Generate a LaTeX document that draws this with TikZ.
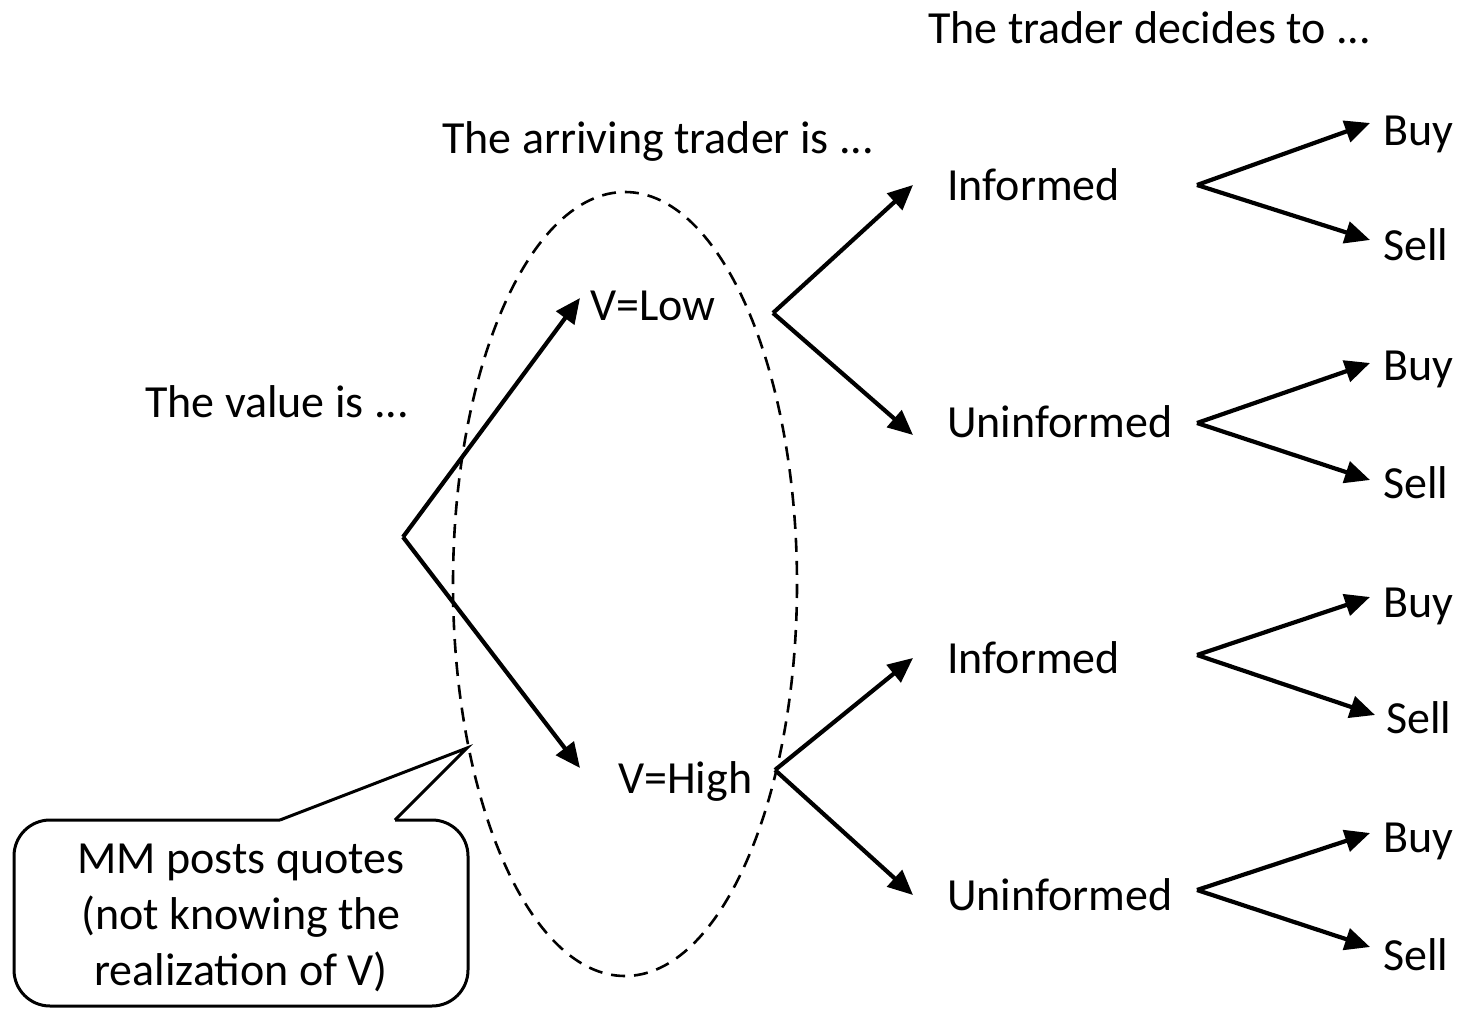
\documentclass[tikz,border=0pt]{standalone}
\usepackage{fontspec}
\setmainfont{Carlito}
\usetikzlibrary{arrows.meta}
\begin{document}
\begin{tikzpicture}[x=1pt,y=-1pt,
  lbl/.style={anchor=base west, inner sep=0pt, font=\fontsize{46}{56}\selectfont},
  branch/.style={line width=4.2pt, -{Triangle[length=25pt,width=22pt]}},
  infoset/.style={line width=2.6pt, dash pattern=on 14pt off 9pt},
  callout/.style={line width=3pt}]
\useasboundingbox (0,0) rectangle (1460,1009);

% information set of the market maker
\draw[infoset] (625,584) ellipse [x radius=172, y radius=392];

% headings
\node[lbl] (hdecide) at (928,43) {The trader decides to ...};
\node[lbl] (harrive) at (442,153) {The arriving trader is ...};
\node[lbl] (hvalue)  at (145,417) {The value is ...};

% value level
\coordinate (root) at (403,537);
\coordinate (lowT) at (580,298);
\coordinate (highT) at (580,768);
\node[lbl] (vlow)  at (590,320) {V=Low};
\node[lbl] (vhigh) at (618,793) {V=High};
\draw[branch] (root) -- (lowT);
\draw[branch] (root) -- (highT);

% trader type level
\coordinate (lowV) at (773,313);
\coordinate (highV) at (775,770);
\coordinate (inf1T) at (913,185);
\coordinate (uni1T) at (913,435);
\coordinate (inf2T) at (913,658);
\coordinate (uni2T) at (913,895);
\draw[branch] (lowV) -- (inf1T);
\draw[branch] (lowV) -- (uni1T);
\draw[branch] (highV) -- (inf2T);
\draw[branch] (highV) -- (uni2T);
\node[lbl] (inf1) at (947,200) {Informed};
\node[lbl] (uni1) at (947,437) {Uninformed};
\node[lbl] (inf2) at (947,673) {Informed};
\node[lbl] (uni2) at (947,910) {Uninformed};

% trading decisions
\coordinate (d1) at (1197,185);
\coordinate (d2) at (1197,423);
\coordinate (d3) at (1197,655);
\coordinate (d4) at (1197,890);
\coordinate (b1T) at (1370,123); \coordinate (s1T) at (1370,240);
\coordinate (b2T) at (1370,363); \coordinate (s2T) at (1370,480);
\coordinate (b3T) at (1370,597); \coordinate (s3T) at (1375,715);
\coordinate (b4T) at (1370,833); \coordinate (s4T) at (1370,947);
\foreach \d/\b/\s in {d1/b1T/s1T, d2/b2T/s2T, d3/b3T/s3T, d4/b4T/s4T}{
  \draw[branch] (\d) -- (\b);
  \draw[branch] (\d) -- (\s);
}
\node[lbl] (buy1)  at (1383,145) {Buy};
\node[lbl] (sell1) at (1383,260) {Sell};
\node[lbl] (buy2)  at (1383,380) {Buy};
\node[lbl] (sell2) at (1383,498) {Sell};
\node[lbl] (buy3)  at (1383,617) {Buy};
\node[lbl] (sell3) at (1386,733) {Sell};
\node[lbl] (buy4)  at (1383,852) {Buy};
\node[lbl] (sell4) at (1383,970) {Sell};

% market maker callout
\coordinate (ctip) at (467,748);
\draw[callout] (280,820) -- (ctip) -- (395,820);
\draw[callout, rounded corners=36pt] (395,820) -- (468,820) -- (468,1006)
  -- (14,1006) -- (14,820) -- (280,820);
\node[font=\fontsize{46}{56}\selectfont, align=center, anchor=base, inner sep=0pt]
  (mm) at (241,985) {MM posts quotes\\(not knowing the\\realization of V)};
\end{tikzpicture}
\end{document}
